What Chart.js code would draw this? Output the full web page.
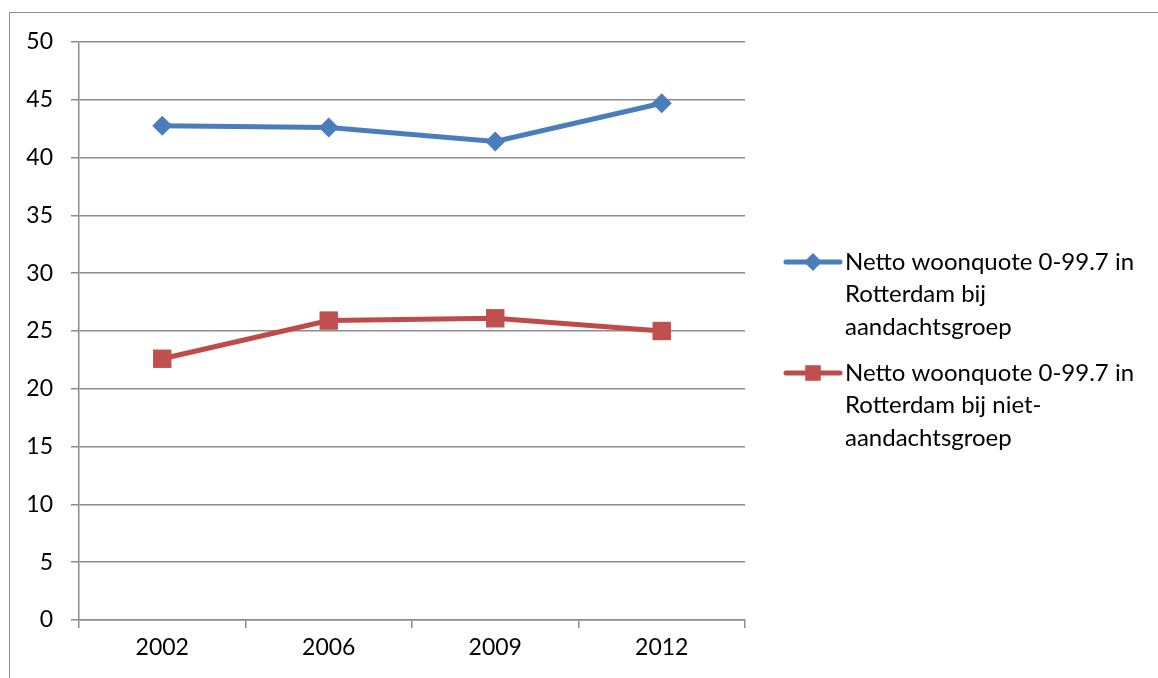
<!DOCTYPE html>
<html>
<head>
<meta charset="utf-8">
<script src="https://cdn.jsdelivr.net/npm/chart.js@4/dist/chart.umd.min.js"></script>
<style>
  html, body { margin: 0; padding: 0; background: #fff; overflow: hidden; }
  #wrap { position: relative; width: 1158px; height: 678px; }
  #frame {
    position: absolute; left: 9px; top: 12px; width: 1200px; height: 720px;
    border: 1.5px solid #8c8c8c; pointer-events: none;
  }
  canvas { position: absolute; left: 0; top: 0; }
</style>
</head>
<body>
<div id="wrap">
  <canvas id="chart" width="1158" height="678"></canvas>
  <div id="frame"></div>
</div>
<script>
const years = ["2002", "2006", "2009", "2012"];
const aandacht = [42.75, 42.6, 41.4, 44.7];
const nietAandacht = [22.6, 25.9, 26.1, 25.0];
const labelAandacht = ["Netto woonquote 0-99.7 in", "Rotterdam bij", "aandachtsgroep"];
const labelNiet = ["Netto woonquote 0-99.7 in", "Rotterdam bij niet-", "aandachtsgroep"];

const axisGrey = "#8c8c8c";
const fontFamily = "Lato, 'Open Sans', sans-serif";

// legend on the right with wrapped labels, drawn by hand
const sideLegend = {
  id: "sideLegend",
  afterDraw(chart) {
    const ctx = chart.ctx;
    const items = [
      { ds: chart.data.datasets[0], y: 262, lines: labelAandacht },
      { ds: chart.data.datasets[1], y: 373, lines: labelNiet },
    ];
    ctx.save();
    items.forEach((it) => {
      ctx.strokeStyle = it.ds.borderColor;
      ctx.lineWidth = 5;
      ctx.lineCap = "round";
      ctx.beginPath();
      ctx.moveTo(786, it.y);
      ctx.lineTo(840, it.y);
      ctx.stroke();
      ctx.fillStyle = it.ds.pointBackgroundColor;
      Chart.helpers.drawPoint(ctx, {
        pointStyle: it.ds.pointStyle,
        radius: it.ds.pointStyle === "rect" ? 11 : 9,
        borderWidth: 0,
      }, 813, it.y);
      ctx.fillStyle = "#000";
      ctx.font = "24px " + fontFamily;
      ctx.textBaseline = "middle";
      ctx.textAlign = "left";
      it.lines.forEach((t, i) => ctx.fillText(t, 845, it.y + i * 32.5));
    });
    ctx.restore();
  },
};

new Chart(document.getElementById("chart").getContext("2d"), {
  type: "line",
  data: {
    labels: years,
    datasets: [
      {
        label: labelAandacht.join(" "),
        data: aandacht,
        borderColor: "#4a7ebb",
        backgroundColor: "#4a7ebb",
        pointBackgroundColor: "#4a7ebb",
        pointBorderWidth: 0,
        borderWidth: 5,
        pointStyle: "rectRot",
        pointRadius: 10,
        tension: 0,
      },
      {
        label: labelNiet.join(" "),
        data: nietAandacht,
        borderColor: "#be4b48",
        backgroundColor: "#c0504d",
        pointBackgroundColor: "#c0504d",
        pointBorderWidth: 0,
        borderWidth: 5,
        pointStyle: "rect",
        pointRadius: 13,
        tension: 0,
      },
    ],
  },
  options: {
    responsive: false,
    animation: false,
    layout: { padding: { left: 0, top: 42, right: 413, bottom: 0 } },
    plugins: { legend: { display: false }, tooltip: { enabled: false } },
    scales: {
      x: {
        offset: true,
        grid: {
          offset: true,
          drawOnChartArea: false,
          color: axisGrey,
          lineWidth: 1.5,
          tickLength: 8,
        },
        border: { color: axisGrey, width: 1.5 },
        ticks: { color: "#000", font: { family: fontFamily, size: 23 }, padding: 6 },
        afterFit(scale) { scale.height = 58; },
      },
      y: {
        min: 0,
        max: 50,
        ticks: {
          stepSize: 5,
          color: "#000",
          font: { family: fontFamily, size: 23 },
          padding: 18,
        },
        grid: { color: axisGrey, lineWidth: 1.5, tickLength: 8 },
        border: { color: axisGrey, width: 1.5 },
        afterFit(scale) { scale.width = 79; },
      },
    },
  },
  plugins: [sideLegend],
});
</script>
</body>
</html>
